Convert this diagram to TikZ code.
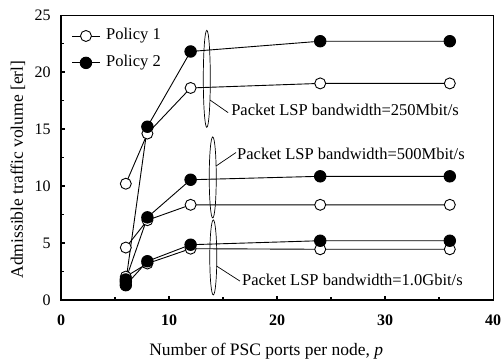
\documentclass[tikz,border=0pt]{standalone}
\usepackage{fontspec}
\setmainfont{Liberation Serif}
\usetikzlibrary{shapes.geometric}
\begin{document}
\begin{tikzpicture}[x=1pt,y=1pt,
  opendot/.style={circle,draw=black,fill=white,line width=0.9pt,inner sep=0pt,minimum size=11pt},
  filldot/.style={circle,draw=black,fill=black,line width=0.9pt,inner sep=0pt,minimum size=11.5pt},
  dataline/.style={line width=0.9pt},
  bubble/.style={ellipse,draw=black,line width=0.7pt,inner sep=0pt,minimum width=7pt},
  lsplabel/.style={anchor=west,inner sep=0pt,font=\fontsize{16.5}{19}\selectfont},
  leader/.style={line width=0.7pt},
  ticklab/.style={inner sep=0pt,font=\fontsize{16}{19}\selectfont}]
\useasboundingbox (0,0) rectangle (503,359);
\begin{scope}[shift={(61,59)},x=10.8pt,y=11.4pt]
  % frame and axes
  \draw[line width=0.8pt] (0,0) rectangle (40,25);
  \draw[line width=2pt] (0,25) -- (0,0) -- (40,0);
  \foreach \t in {10,20,30} \draw[line width=1.2pt] (\t,0) -- ++(0,4pt);
  \foreach \t in {5,15,25,35} \draw[line width=1.2pt] (\t,0) -- ++(0,3pt);
  \foreach \t in {5,10,15,20} \draw[line width=1.2pt] (0,\t) -- ++(4pt,0);
  \foreach \t in {2.5,7.5,12.5,17.5,22.5} \draw[line width=1.2pt] (0,\t) -- ++(3pt,0);
  \foreach \t in {0,10,20,30,40} \node[ticklab,font=\fontsize{16}{19}\selectfont\bfseries] (xt\t) at (\t,-1.75) {\t};
  \foreach \t in {0,5,10,15,20,25} \node[ticklab,anchor=east] (yt\t) at (-0.95,\t) {\t};
  \node[font=\fontsize{17.5}{20}\selectfont] (xlab) at (19.0,-4.5) {Number of PSC ports per node, \textit{p}};
  \node[font=\fontsize{17.5}{20}\selectfont,rotate=90] (ylab) at (-4.0,11.45) {Admissible traffic volume [erl]};

  % data coordinates
  \coordinate (a1) at (6,10.2); \coordinate (a2) at (8,14.6); \coordinate (a3) at (12,18.6); \coordinate (a4) at (24,19.0); \coordinate (a5) at (36,19.0);
  \coordinate (b1) at (6,1.6);  \coordinate (b2) at (8,15.2); \coordinate (b3) at (12,21.8); \coordinate (b4) at (24,22.7); \coordinate (b5) at (36,22.7);
  \coordinate (c1) at (6,4.6);  \coordinate (c2) at (8,7.0);  \coordinate (c3) at (12,8.35); \coordinate (c4) at (24,8.35); \coordinate (c5) at (36,8.35);
  \coordinate (d1) at (6,1.8);  \coordinate (d2) at (8,7.25); \coordinate (d3) at (12,10.55); \coordinate (d4) at (24,10.85); \coordinate (d5) at (36,10.85);
  \coordinate (e1) at (6,2.05); \coordinate (e2) at (8,3.2);  \coordinate (e3) at (12,4.5);  \coordinate (e4) at (24,4.45); \coordinate (e5) at (36,4.45);
  \coordinate (f1) at (6,1.3);  \coordinate (f2) at (8,3.4);  \coordinate (f3) at (12,4.85); \coordinate (f4) at (24,5.2);  \coordinate (f5) at (36,5.2);

  \foreach \s in {a,b,c,d,e,f} \draw[dataline] (\s1) -- (\s2) -- (\s3) -- (\s4) -- (\s5);

  \foreach \s in {a,c,e} \foreach \i in {1,...,5} \node[opendot] (m\s\i) at (\s\i) {};
  \foreach \s in {b,d,f} \foreach \i in {1,...,5} \node[filldot] (m\s\i) at (\s\i) {};

  % bubbles
  \node[bubble,minimum height=97pt] (ell1) at (13.5,19.4) {};
  \node[bubble,minimum height=81pt] (ell2) at (14.05,10.75) {};
  \node[bubble,minimum height=75pt] (ell3) at (14.1,3.73) {};

  \node[lsplabel] (lab1) at (15.75,16.7) {Packet LSP bandwidth=250Mbit/s};
  \node[lsplabel] (lab2) at (16.3,12.85) {Packet LSP bandwidth=500Mbit/s};
  \node[lsplabel] (lab3) at (16.75,1.75) {Packet LSP bandwidth=1.0Gbit/s};

  \coordinate (s1) at (13.8,17.54);
  \coordinate (s2) at (14.35,11.75);
  \coordinate (s3) at (14.4,2.98);
  \draw[leader] (s1) -- ([xshift=-3pt,yshift=-3pt]lab1.west);
  \draw[leader] (s2) -- ([xshift=-1pt,yshift=1pt]lab2.west);
  \draw[leader] (s3) -- ([xshift=-2pt,yshift=-1pt]lab3.west);

  % legend
  \coordinate (la) at (1.02,23.16); \coordinate (lb) at (3.61,23.16);
  \coordinate (lc) at (1.02,20.8);  \coordinate (ld) at (3.61,20.8);
  \draw[dataline] (la) -- (lb);
  \draw[dataline] (lc) -- (ld);
  \node[opendot] (leg1) at (2.31,23.16) {};
  \node[filldot] (leg2) at (2.31,20.8) {};
  \node[lsplabel] (legt1) at (4.17,23.16) {Policy 1};
  \node[lsplabel] (legt2) at (4.17,20.8) {Policy 2};
\end{scope}
\end{tikzpicture}
\end{document}
